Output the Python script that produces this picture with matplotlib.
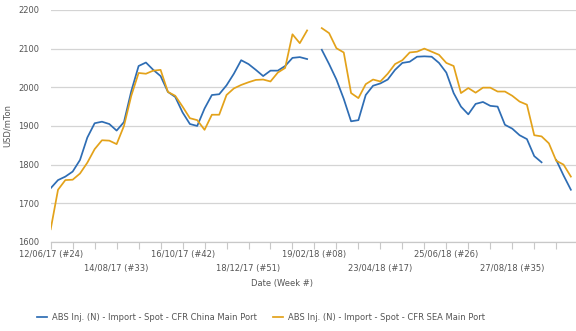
import numpy as np
import pandas as pd
import matplotlib
matplotlib.use("Agg")
import matplotlib.pyplot as plt

# weekly prices, USD/mTon, from week 24 of 2017 (NaN = no assessment)
weeks = pd.date_range("2017-06-12", periods=72, freq="7D")

china = [1739, 1760, 1769, 1782, 1812, 1870, 1907, 1911, 1905, 1888,
         1910, 1990, 2055, 2064, 2045, 2029, 1988, 1975, 1935, 1905,
         1900, 1945, 1980, 1982, 2005, 2035, 2070, 2060, 2045, 2029,
         2043, 2043, 2055, 2076, 2078, 2073, np.nan, 2097, 2060, 2020,
         1970, 1912, 1915, 1980, 2004, 2010, 2020, 2045, 2063, 2066,
         2079, 2080, 2079, 2063, 2038, 1985, 1950, 1930, 1957, 1962,
         1952, 1950, 1903, 1893, 1876, 1866, 1822, 1806, np.nan, 1812,
         1772, 1735]

sea = [1633, 1735, 1760, 1761, 1777, 1805, 1840, 1863, 1862, 1853,
       1900, 1978, 2037, 2035, 2043, 2045, 1988, 1978, 1950, 1920,
       1915, 1890, 1929, 1929, 1980, 1997, 2006, 2013, 2019, 2020,
       2015, 2038, 2050, 2137, 2114, 2147, np.nan, 2153, 2140, 2101,
       2090, 1985, 1972, 2008, 2020, 2015, 2035, 2060, 2070, 2090,
       2092, 2100, 2092, 2084, 2063, 2055, 1985, 1998, 1986, 1999,
       1999, 1989, 1989, 1978, 1963, 1955, 1876, 1873, 1855, 1810,
       1800, 1769]

labels = ["ABS Inj. (N) - Import - Spot - CFR China Main Port",
          "ABS Inj. (N) - Import - Spot - CFR SEA Main Port"]
colors = ["#2e6db4", "#e3a21a"]

txt = "#555555"
fs = 6.0

fig = plt.figure(figsize=(5.76, 3.31), dpi=100)
ax = fig.add_axes([0.088, 0.269, 0.912, 0.701])

x = np.arange(len(weeks))
for y, lab, c in zip([china, sea], labels, colors):
    ax.plot(x, y, color=c, lw=1.25, label=lab, solid_joinstyle="round")

ax.set_ylim(1600, 2200)
ax.set_yticks(range(1600, 2201, 100))
ax.set_xlim(0, 71.7)

# minor tick every 3 weeks, dated label every 9 weeks on alternating rows
ticks = x[::3]
ticklabels = []
for i, t in enumerate(ticks):
    if i % 3 == 0:
        d = weeks[t]
        s = "{} (#{:02d})".format(d.strftime("%d/%m/%y"), d.isocalendar()[1])
        ticklabels.append(s if (i // 3) % 2 == 0 else "\n" + s)
    else:
        ticklabels.append("")
ax.set_xticks(ticks)
ax.set_xticklabels(ticklabels, fontsize=fs, color=txt, linespacing=1.75)

ax.tick_params(axis="y", length=0, pad=8, labelsize=fs, labelcolor=txt)
ax.tick_params(axis="x", length=5, width=0.8, color="#c8c8c8", pad=0.5)

ax.grid(axis="y", color="#d4d4d4", lw=0.9)
ax.set_axisbelow(True)
for side in ["left", "right", "top"]:
    ax.spines[side].set_visible(False)
ax.spines["bottom"].set_color("#c8c8c8")
ax.spines["bottom"].set_linewidth(0.9)

fig.text(0.012, 0.62, "USD/mTon", rotation=90, ha="center", va="center",
         fontsize=fs, color=txt)
fig.text(0.49, 0.142, "Date (Week #)", ha="center", va="center",
         fontsize=fs, color=txt)

fig.legend(loc="center", bbox_to_anchor=(0.453, 0.04), ncol=2, frameon=False,
           fontsize=fs, labelcolor=txt, handlelength=1.2, handletextpad=0.6,
           columnspacing=1.9)

fig.savefig("out.png", dpi=100)
